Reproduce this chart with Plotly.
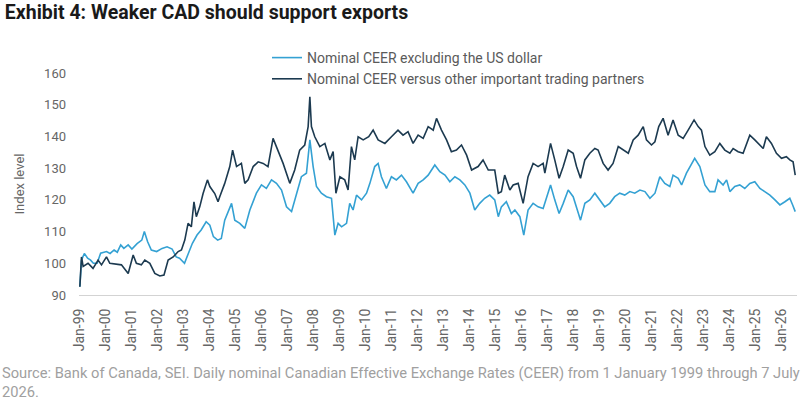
import plotly.graph_objects as go

# ---- data ----
dates_excl = [
    "1999-01-01","1999-01-24","1999-03-05","1999-04-20","1999-06-01","1999-07-10","1999-09-01","1999-10-20",
    "2000-01-10","2000-03-01","2000-04-26","2000-06-10","2000-07-28","2000-09-10","2000-11-10","2001-01-01",
    "2001-03-15","2001-05-20","2001-06-25","2001-08-10","2001-10-01","2001-12-15","2002-03-01","2002-05-10",
    "2002-07-20","2002-09-15","2002-11-01","2003-01-10","2003-03-05","2003-05-01","2003-07-05","2003-09-01",
    "2003-11-10","2004-01-01","2004-02-20","2004-04-20","2004-06-10","2004-07-28","2004-11-01","2004-12-16",
    "2005-02-25","2005-05-06","2005-07-16","2005-10-16","2005-12-26","2006-03-05","2006-05-16","2006-07-25",
    "2006-10-04","2006-12-13","2007-02-22","2007-05-01","2007-07-10","2007-09-19","2007-11-06","2007-12-22",
    "2008-02-07","2008-04-16","2008-06-26","2008-09-05","2008-10-22","2008-12-07","2009-01-25","2009-04-04",
    "2009-05-19","2009-07-05","2009-08-22","2009-11-01","2010-01-10","2010-02-26","2010-05-05","2010-06-22",
    "2010-08-07","2010-10-16","2010-12-26","2011-03-05","2011-05-16","2011-07-25","2011-10-26","2012-01-05",
    "2012-03-16","2012-05-25","2012-08-26","2012-11-05","2013-01-16","2013-03-25","2013-06-04","2013-08-13",
    "2013-10-22","2014-01-01","2014-03-10","2014-05-19","2014-07-28","2014-10-07","2014-12-16","2015-02-04",
    "2015-03-19","2015-05-28","2015-08-07","2015-09-25","2015-12-04","2016-01-28","2016-03-28","2016-06-07",
    "2016-08-16","2016-10-26","2017-01-05","2017-02-07","2017-04-07","2017-06-07","2017-08-04","2017-10-13",
    "2017-12-22","2018-02-07","2018-04-04","2018-06-04","2018-08-13","2018-10-22","2019-01-01","2019-03-10",
    "2019-05-19","2019-07-28","2019-10-07","2019-12-16","2020-02-26","2020-05-05","2020-07-16","2020-09-25",
    "2020-12-04","2021-02-13","2021-04-22","2021-07-01","2021-09-10","2021-10-25","2022-01-05","2022-02-22",
    "2022-05-01","2022-07-10","2022-08-25","2022-11-05","2023-01-16","2023-03-25","2023-06-04","2023-07-19",
    "2023-09-28","2023-11-16","2024-01-01","2024-03-10","2024-05-19","2024-07-28","2024-10-07","2024-12-16",
    "2025-02-26","2025-05-05","2025-07-16","2025-09-25","2025-12-04","2026-02-12","2026-04-22","2026-06-01",
    "2026-07-07",
]
ceer_excl_usd = [
    92.6,101.0,103.1,101.6,101.0,100.0,100.0,103.2,
    103.7,103.1,104.2,103.5,105.8,104.7,105.8,104.5,
    106.2,107.3,110.0,106.8,104.2,103.7,104.7,105.2,
    104.5,102.0,101.6,100.0,103.1,106.3,108.9,110.5,
    113.1,112.0,108.4,107.3,107.8,113.6,118.9,113.6,
    112.6,111.0,116.8,122.1,124.7,123.6,126.3,125.2,
    123.1,117.8,116.3,122.1,127.3,128.4,138.9,130.5,
    124.2,122.1,121.0,120.5,108.9,112.6,111.5,112.6,
    118.9,116.8,121.5,120.0,122.1,125.2,130.5,131.5,
    127.3,123.6,127.3,126.3,127.8,125.7,122.1,125.2,
    126.3,127.8,131.0,128.9,127.8,125.7,127.3,126.3,
    124.7,122.1,116.8,118.9,120.5,121.5,120.0,114.7,
    117.8,119.4,115.7,116.8,114.7,108.9,116.8,118.9,
    117.8,117.3,122.1,124.7,120.0,115.7,118.9,123.1,
    121.0,117.8,113.6,118.9,120.0,122.1,120.0,117.8,
    118.9,121.0,122.1,121.5,122.6,122.1,123.1,122.6,
    120.5,122.1,127.3,125.2,124.2,127.8,126.8,124.7,
    128.4,131.5,133.1,130.5,124.7,122.6,122.6,126.3,
    124.7,126.3,122.6,124.2,124.7,123.6,125.2,125.7,
    123.6,122.6,121.5,120.0,118.4,119.4,120.5,118.4,
    116.3,
]

dates_other = [
    "1999-01-01","1999-01-24","1999-02-16","1999-04-26","1999-07-05","1999-09-14","1999-11-01","2000-01-10",
    "2000-02-26","2000-05-05","2000-08-07","2000-11-10","2001-01-19","2001-03-05","2001-05-14","2001-07-01",
    "2001-09-10","2001-11-19","2002-01-28","2002-03-28","2002-05-25","2002-08-04","2002-10-13","2002-11-28",
    "2003-01-14","2003-03-01","2003-04-16","2003-05-23","2003-06-25","2003-08-12","2003-09-28","2003-11-28",
    "2004-01-01","2004-03-10","2004-04-25","2004-05-19","2004-07-28","2004-10-07","2004-11-16","2005-01-10",
    "2005-03-19","2005-05-06","2005-06-22","2005-09-01","2005-11-10","2006-01-19","2006-03-28","2006-06-07",
    "2006-08-16","2006-10-26","2007-01-28","2007-04-07","2007-06-16","2007-08-26","2007-10-13","2007-11-06",
    "2007-11-28","2008-01-14","2008-03-25","2008-06-04","2008-08-13","2008-09-28","2008-11-06","2009-01-01",
    "2009-03-10","2009-04-26","2009-06-12","2009-07-28","2009-09-14","2009-11-24","2010-02-10","2010-04-13",
    "2010-06-22","2010-09-25","2010-12-26","2011-03-28","2011-06-07","2011-08-16","2011-10-26","2012-01-05",
    "2012-03-16","2012-05-25","2012-08-04","2012-09-19","2012-11-28","2013-02-07","2013-04-16","2013-06-26",
    "2013-09-05","2013-11-16","2014-01-25","2014-04-26","2014-07-05","2014-09-16","2014-12-16","2015-02-04",
    "2015-03-19","2015-05-05","2015-07-16","2015-09-01","2015-11-10","2016-01-19","2016-03-28","2016-06-07",
    "2016-08-16","2016-10-26","2016-11-19","2017-01-05","2017-02-07","2017-04-07","2017-06-07","2017-08-04",
    "2017-10-13","2017-12-22","2018-02-07","2018-04-04","2018-06-04","2018-08-13","2018-10-22","2018-12-07",
    "2019-02-16","2019-04-26","2019-07-05","2019-09-16","2019-11-25","2020-02-04","2020-04-13","2020-06-22",
    "2020-09-01","2020-10-16","2020-12-26","2021-02-12","2021-04-07","2021-06-07","2021-08-16","2021-10-25",
    "2022-01-05","2022-03-16","2022-05-25","2022-08-16","2022-10-13","2022-11-28","2023-01-16","2023-03-25",
    "2023-06-04","2023-08-13","2023-10-22","2024-01-01","2024-02-16","2024-04-26","2024-07-05","2024-08-22",
    "2024-10-07","2024-12-16","2025-02-26","2025-04-13","2025-05-28","2025-08-07","2025-10-16","2025-12-26",
    "2026-03-05","2026-04-22","2026-06-07","2026-06-25","2026-07-07",
]
ceer_other = [
    92.6,102.0,99.0,100.0,98.4,101.0,99.5,102.0,
    100.0,99.8,99.5,96.8,102.6,100.0,99.5,101.0,
    100.0,96.8,96.0,96.3,101.0,102.0,103.7,104.2,
    107.3,112.6,111.5,119.4,114.7,117.8,122.0,126.3,
    124.2,122.0,119.4,121.0,125.2,130.5,135.7,130.5,
    131.5,125.2,126.3,130.5,132.0,131.5,130.5,139.4,
    135.7,131.5,125.2,129.4,135.7,137.3,143.1,152.5,
    143.1,139.9,136.8,137.8,132.6,135.2,122.1,127.3,
    126.3,123.1,136.8,132.6,139.9,138.9,139.9,142.0,
    138.9,137.8,139.9,142.0,140.4,141.5,137.8,140.4,
    139.4,143.1,142.0,145.7,142.0,138.9,135.2,135.7,
    137.3,134.1,129.4,130.5,132.6,129.4,129.4,122.1,
    122.6,127.8,123.1,124.7,125.2,118.9,127.3,131.5,
    130.5,131.5,128.4,133.6,137.8,132.6,126.8,130.5,
    135.7,134.7,130.5,126.8,132.6,134.7,136.2,135.7,
    131.5,129.4,131.5,136.8,135.7,134.7,138.9,140.4,
    143.1,138.9,137.3,138.3,143.1,145.7,140.4,145.2,
    140.4,139.4,142.0,145.2,143.1,142.0,136.8,134.1,
    135.2,137.8,135.7,134.7,136.2,135.2,134.7,137.8,
    140.4,138.9,137.3,136.2,139.9,137.8,134.7,133.1,
    133.6,132.6,132.0,129.4,127.8,
]

series_names = ["Nominal CEER excluding the US dollar",
                "Nominal CEER versus other important trading partners"]
y_ticks = [90, 100, 110, 120, 130, 140, 150, 160]

title_text = "Exhibit 4: Weaker CAD should support exports"
y_title = "Index level"
source_text = ("Source: Bank of Canada, SEI. Daily nominal Canadian Effective Exchange Rates (CEER) "
               "from 1 January 1999 through 7 July<br>2026.")

LIGHT = "#34A1D3"
DARK = "#1C3A50"
FONT = "Roboto"

fig = go.Figure()
fig.add_trace(go.Scatter(x=dates_excl, y=ceer_excl_usd, mode="lines", name=series_names[0],
                         line=dict(color=LIGHT, width=1.6), legendgroup="a"))
fig.add_trace(go.Scatter(x=dates_other, y=ceer_other, mode="lines", name=series_names[1],
                         line=dict(color=DARK, width=1.6), legendgroup="b"))

fig.update_layout(
    width=809, height=405,
    margin=dict(l=79, r=12, t=73, b=110),
    paper_bgcolor="white", plot_bgcolor="white",
    font=dict(family=FONT, color="#666666", size=13),
    title=dict(text="<b>" + title_text + "</b>", x=0.006, xref="container", xanchor="left",
               y=1 - 5 / 405, yref="container", yanchor="top",
               font=dict(family=FONT, size=19.5, color="#1a1a1a")),
    showlegend=True,
    legend=dict(x=(267 - 79) / 718, xanchor="left", y=1 + (73 - 42) / 222, yanchor="top",
                orientation="v", font=dict(size=14, color="#5a5a5a"),
                bgcolor="rgba(0,0,0,0)", tracegroupgap=7, traceorder="normal"),
    xaxis=dict(type="date", range=["1998-12-20", "2026-08-01"],
               tick0="1999-01-01", dtick="M12", tickformat="%b-%y", tickangle=-90,
               showgrid=False, showline=True, linecolor="#d3d3d3", linewidth=1,
               ticks="", tickfont=dict(size=14, color="#666666"), ticklabelstandoff=7,
               zeroline=False),
    yaxis=dict(range=[90, 160], tickvals=y_ticks, showgrid=False, showline=False, zeroline=False,
               ticks="", tickfont=dict(size=13, color="#666666"), ticklabelstandoff=12,
               title=dict(text=y_title, font=dict(size=13, color="#666666"), standoff=16)),
    annotations=[dict(text=source_text, xref="paper", yref="paper", x=-79 / 718, xanchor="left",
                      y=-(362 - 295) / 222, yanchor="top", showarrow=False, align="left",
                      font=dict(size=14.7, color="#a0a0a0", family=FONT))],
)

fig.write_html("out.html")
